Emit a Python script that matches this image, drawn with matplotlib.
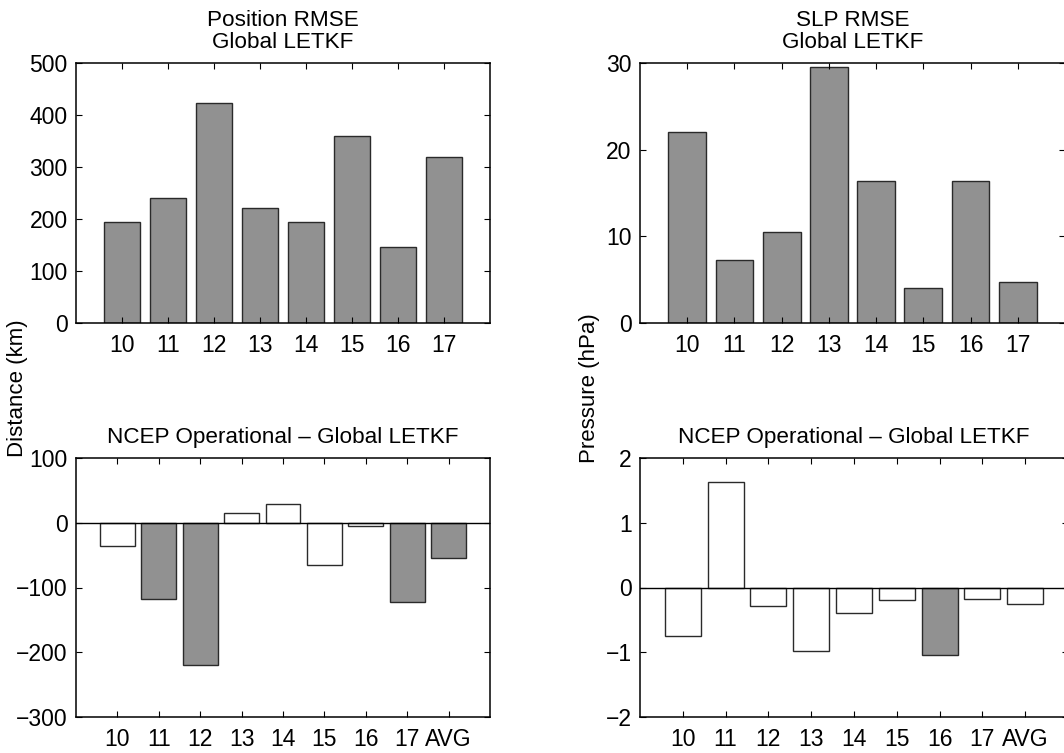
import matplotlib.pyplot as plt

plt.rcParams['font.family'] = ['Liberation Sans', 'DejaVu Sans']
plt.rcParams['font.size'] = 16.5

days = ['10', '11', '12', '13', '14', '15', '16', '17']
diff_labels = days + ['AVG']

pos_rmse = [194, 240, 423, 222, 194, 359, 146, 320]
slp_rmse = [22.0, 7.3, 10.5, 29.5, 16.35, 4.08, 16.35, 4.73]

pos_diff = [-36, -117, -220, 15, 29, -65, -5, -123, -54]
pos_shaded = [False, True, True, False, False, False, False, True, True]

slp_diff = [-0.75, 1.63, -0.29, -0.98, -0.40, -0.20, -1.04, -0.175, -0.26]
slp_shaded = [False, False, False, False, False, False, True, False, False]

gray = '#919191'
edge = '#2a2a2a'

fig = plt.figure(figsize=(10.64, 7.53), dpi=100)

W, H = 1064.0, 753.0


def make_ax(x0, x1, y0, y1):
    return fig.add_axes([x0 / W, 1 - y1 / H, (x1 - x0) / W, (y1 - y0) / H])


def style(ax):
    ax.tick_params(direction='in', length=4, width=0.8, top=True, right=True)
    ax.tick_params(axis='x', pad=8)
    ax.tick_params(axis='y', pad=6)
    for s in ax.spines.values():
        s.set_linewidth(1.1)


ax1 = make_ax(76, 490, 63, 323)
ax2 = make_ax(640, 1065, 63, 323)
ax3 = make_ax(76, 490, 458, 717)
ax4 = make_ax(640, 1068, 458, 717)

x_top = [int(d) for d in days]
for ax, vals, ylim, yt, title in [
    (ax1, pos_rmse, (0, 500), range(0, 501, 100), 'Position RMSE\nGlobal LETKF'),
    (ax2, slp_rmse, (0, 30), range(0, 31, 10), 'SLP RMSE\nGlobal LETKF'),
]:
    ax.bar(x_top, vals, width=0.8, color=gray, edgecolor=edge, linewidth=1)
    ax.set_xlim(9, 18)
    ax.set_ylim(*ylim)
    ax.set_xticks(x_top)
    ax.set_xticklabels(days)
    ax.set_yticks(list(yt))
    ax.set_title(title, fontsize=16.2, pad=11, linespacing=1.05)
    style(ax)

x_bot = list(range(1, len(diff_labels) + 1))
for ax, vals, shaded, ylim, yt in [
    (ax3, pos_diff, pos_shaded, (-300, 100), range(-300, 101, 100)),
    (ax4, slp_diff, slp_shaded, (-2, 2), range(-2, 3)),
]:
    colors = [gray if s else 'white' for s in shaded]
    ax.bar(x_bot, vals, width=0.84, color=colors, edgecolor=edge, linewidth=1)
    ax.axhline(0, color='black', linewidth=1)
    ax.set_xlim(0, 10)
    ax.set_ylim(*ylim)
    ax.set_xticks(x_bot)
    ax.set_xticklabels(diff_labels)
    ax.set_yticks(list(yt))
    ax.set_title('NCEP Operational \u2013 Global LETKF', fontsize=16.2, pad=11)
    style(ax)

fig.text(18 / W, 1 - 388 / H, 'Distance (km)', rotation=90, ha='center', va='center', fontsize=16)
fig.text(589 / W, 1 - 388 / H, 'Pressure (hPa)', rotation=90, ha='center', va='center', fontsize=16)

fig.savefig('out.png', dpi=100, facecolor='white')
